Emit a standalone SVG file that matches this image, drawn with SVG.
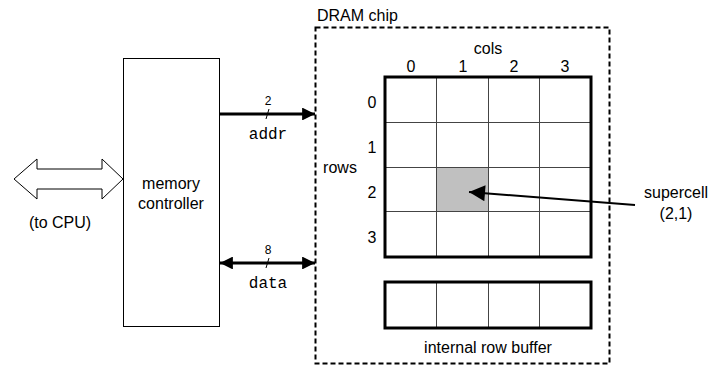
<svg xmlns="http://www.w3.org/2000/svg" width="710" height="367" viewBox="0 0 710 367">
<defs>
<style>
.t{font-family:"Liberation Sans",Arial,sans-serif;font-size:16px;fill:#000}
.m{font-family:"Liberation Mono","Courier New",monospace;font-size:16px;fill:#000}
.s{font-family:"Liberation Sans",Arial,sans-serif;font-size:12px;fill:#000}
.grid{stroke:#444;stroke-width:1;fill:none}
.bold{stroke:#000;stroke-width:3;fill:none}
.bus{stroke:#000;stroke-width:3;fill:none}
</style>
<marker id="ah" viewBox="0 0 10 10" refX="10" refY="5" markerWidth="4.3" markerHeight="4.3" orient="auto-start-reverse" markerUnits="strokeWidth">
<path d="M0,0 L10,5 L0,10 z" fill="#000"/>
</marker>
<marker id="ah2" viewBox="0 0 10 10" refX="10" refY="5" markerWidth="10" markerHeight="8" orient="auto" markerUnits="strokeWidth">
<path d="M0,0 L10,5 L0,10 z" fill="#000"/>
</marker>
</defs>
<rect width="710" height="367" fill="#fff"/>

<g id="cpu-link">
<path d="M14,179 L37,159 L37,169 L102,169 L102,159 L123,179 L102,199 L102,189 L37,189 L37,199 Z" fill="#fff" stroke="#000" stroke-width="1"/>
<text class="t" x="60" y="228" text-anchor="middle">(to CPU)</text>
</g>

<g id="memory-controller">
<rect x="123.5" y="58.5" width="96" height="268" fill="#fff" stroke="#000" stroke-width="1"/>
<text class="t" x="171" y="189" text-anchor="middle">memory</text>
<text class="t" x="171" y="209" text-anchor="middle">controller</text>
</g>

<g id="dram-chip">
<rect x="315.5" y="27.5" width="294" height="336" fill="none" stroke="#000" stroke-width="2" stroke-dasharray="5,3"/>
<text class="t" x="317" y="21">DRAM chip</text>
</g>

<g id="array">
<rect x="385" y="77" width="206" height="180" fill="#fff"/>
<rect x="437" y="167" width="51.5" height="44.5" fill="#c0c0c0"/>
<path class="grid" d="M436.5,77 V257 M488.5,77 V257 M539.5,77 V257 M385,122.5 H591 M385,167.5 H591 M385,211.5 H591"/>
<rect class="bold" x="385" y="77" width="206" height="180"/>
<text class="t" x="488" y="54" text-anchor="middle">cols</text>
<text class="t" x="411" y="72" text-anchor="middle">0</text>
<text class="t" x="463" y="72" text-anchor="middle">1</text>
<text class="t" x="514" y="72" text-anchor="middle">2</text>
<text class="t" x="565" y="72" text-anchor="middle">3</text>
<text class="t" x="340" y="173" text-anchor="middle">rows</text>
<text class="t" x="372" y="108" text-anchor="middle">0</text>
<text class="t" x="372" y="153" text-anchor="middle">1</text>
<text class="t" x="372" y="198" text-anchor="middle">2</text>
<text class="t" x="372" y="243" text-anchor="middle">3</text>
</g>

<g id="row-buffer">
<rect x="385" y="282" width="206" height="46" fill="#fff"/>
<path class="grid" d="M436.5,282 V328 M488.5,282 V328 M539.5,282 V328"/>
<rect class="bold" x="385" y="282" width="206" height="46"/>
<text class="t" x="488" y="353" text-anchor="middle">internal row buffer</text>
</g>

<g id="supercell-label">
<text class="t" x="676" y="198" text-anchor="middle">supercell</text>
<text class="t" x="676" y="219" text-anchor="middle">(2,1)</text>
</g>

<g id="connectors">
<line class="bus" x1="220" y1="114" x2="315" y2="114" marker-end="url(#ah)"/>
<line x1="266" y1="119" x2="269" y2="109" stroke="#000" stroke-width="1"/>
<text class="s" x="268" y="105" text-anchor="middle">2</text>
<text class="m" x="268" y="139" text-anchor="middle">addr</text>
<line class="bus" x1="220" y1="263" x2="315" y2="263" marker-start="url(#ah)" marker-end="url(#ah)"/>
<line x1="266" y1="268" x2="269" y2="258" stroke="#000" stroke-width="1"/>
<text class="s" x="268" y="254" text-anchor="middle">8</text>
<text class="m" x="268" y="288" text-anchor="middle">data</text>
<line x1="635" y1="205" x2="469" y2="192" stroke="#000" stroke-width="2" marker-end="url(#ah2)"/>
</g>
</svg>
